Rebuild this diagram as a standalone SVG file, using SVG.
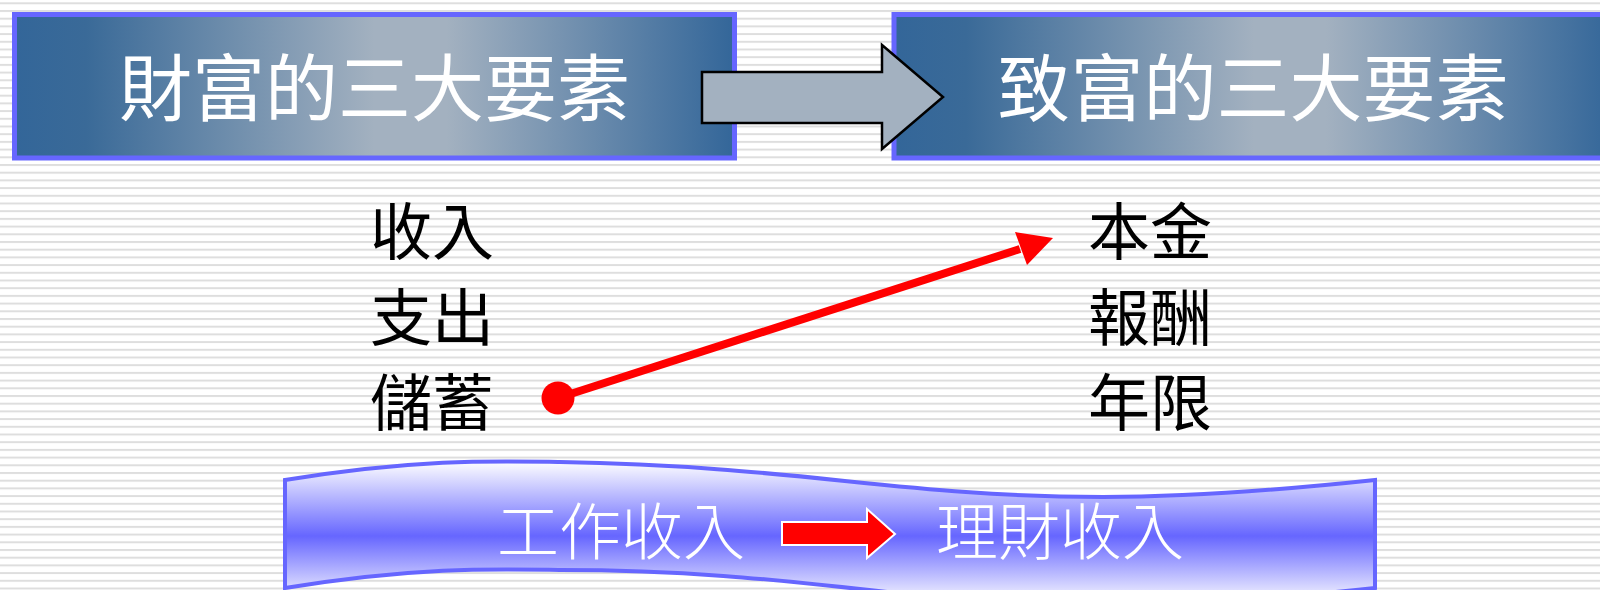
<svg xmlns="http://www.w3.org/2000/svg" width="1600" height="590" viewBox="0 0 1600 590">
  <defs>
    <pattern id="stripes" patternUnits="userSpaceOnUse" width="20" height="7.7" y="2.3">
      <rect x="0" y="0" width="20" height="2" fill="#dedede"/>
    </pattern>
    <linearGradient id="hdrL" x1="0" y1="0" x2="1" y2="0">
      <stop offset="0" stop-color="#336699"/>
      <stop offset="0.1" stop-color="#3a6a98"/>
      <stop offset="0.5" stop-color="#a3b1c0"/>
      <stop offset="0.6" stop-color="#a3b1c0"/>
      <stop offset="1" stop-color="#336699"/>
    </linearGradient>
    <linearGradient id="banner" x1="0" y1="0" x2="0" y2="1">
      <stop offset="0" stop-color="#ffffff"/>
      <stop offset="0.52" stop-color="#6666ff"/>
      <stop offset="1" stop-color="#ffffff"/>
    </linearGradient>
    <style>
      .hdr { stroke: #6666ff; stroke-width: 5; fill: url(#hdrL); }
      .hdrtxt { font-family: "Noto Sans CJK TC", "Noto Sans CJK SC", sans-serif; font-size: 73px; fill: #ffffff; text-anchor: middle; }
      .item { font-family: "Noto Sans CJK TC", "Noto Sans CJK SC", sans-serif; font-size: 62px; fill: #000000; }
      .bantxt { font-family: "Noto Sans CJK TC", "Noto Sans CJK SC", serif; font-size: 62px; fill: #ffffff; font-weight: 300; }
    </style>
  </defs>

  <rect x="0" y="0" width="1600" height="590" fill="#ffffff"/>
  <rect x="0" y="0" width="1600" height="590" fill="url(#stripes)"/>

  <g id="node-wealth-elements">
    <rect class="hdr" x="14.5" y="14.5" width="720" height="143.5"/>
    <text class="hdrtxt" x="374.5" y="115">財富的三大要素</text>
  </g>

  <g id="node-rich-elements">
    <rect class="hdr" x="894" y="14.5" width="720" height="143.5"/>
    <text class="hdrtxt" x="1253" y="115">致富的三大要素</text>
  </g>

  <g id="node-big-arrow">
    <polygon points="702,72 882,72 882,45 943,97 882,149 882,123 702,123" fill="#a3b1c0" stroke="#000000" stroke-width="2.5" stroke-linejoin="miter"/>
  </g>

  <g id="node-left-list">
    <text class="item" x="370" y="255">收入</text>
    <text class="item" x="370" y="341">支出</text>
    <text class="item" x="370" y="426">儲蓄</text>
  </g>

  <g id="node-right-list">
    <text class="item" x="1088" y="255">本金</text>
    <text class="item" x="1088" y="341">報酬</text>
    <text class="item" x="1088" y="426">年限</text>
  </g>

  <g id="connectors">
    <line x1="558" y1="398" x2="1020" y2="249" stroke="#ff0000" stroke-width="8"/>
    <circle cx="558" cy="398" r="16.5" fill="#ff0000"/>
    <polygon points="1053,238 1027,265 1015,232" fill="#ff0000"/>
  </g>

  <g id="node-banner">
    <path d="M285,480 C420,458 500,461 560,462 C800,466 900,497 1103,497 C1200,497 1300,488 1375,480 L1375,588 C1300,596 1200,605 1103,605 C900,605 800,570 560,570 C500,569 420,566 285,588 Z" fill="url(#banner)" stroke="#6666ff" stroke-width="4" stroke-linejoin="miter"/>
    <text class="bantxt" x="497" y="555">工作收入</text>
    <polygon points="782,522 867,522 867,509 895,534 867,558 867,545 782,545" fill="#ff0000" stroke="#ffffff" stroke-width="2"/>
    <text class="bantxt" x="936" y="555">理財收入</text>
  </g>
</svg>
